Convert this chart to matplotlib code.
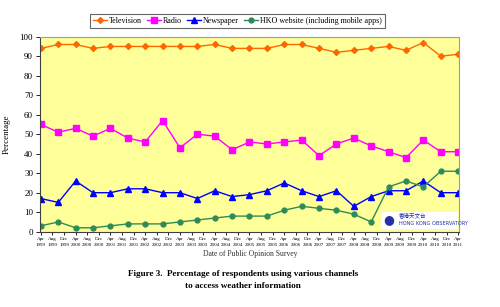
import matplotlib
matplotlib.use("Agg")
import matplotlib.pyplot as plt
import numpy as np

plt.rcParams['font.family'] = ['Liberation Serif', 'DejaVu Serif']

# survey index (every 6 months from Apr 1999), tick labels every 4 months
survey_months = list(range(0, 145, 6))
tick_labels = []
for y in range(1999, 2012):
    for m in ["Apr", "Aug", "Dec"]:
        tick_labels.append(f"{m}\n{y}")
tick_labels = tick_labels[:37]
tick_months = list(range(0, 145, 4))

television = [94, 96, 96, 94, 95, 95, 95, 95, 95, 95, 96, 94, 94, 94, 96, 96, 94, 92, 93, 94, 95, 93, 97, 90, 91]
radio = [55, 51, 53, 49, 53, 48, 46, 57, 43, 50, 49, 42, 46, 45, 46, 47, 39, 45, 48, 44, 41, 38, 47, 41, 41]
newspaper = [17, 15, 26, 20, 20, 22, 22, 20, 20, 17, 21, 18, 19, 21, 25, 21, 18, 21, 13, 18, 21, 21, 26, 20, 20]
hko_web = [3, 5, 2, 2, 3, 4, 4, 4, 5, 6, 7, 8, 8, 8, 11, 13, 12, 11, 9, 5, 23, 26, 23, 31, 31]

fig = plt.figure(figsize=(5, 3.07), dpi=100)
ax = fig.add_axes([0.08, 0.2453, 0.838, 0.6352])
ax.set_facecolor('#FFFF99')

ax.plot(survey_months, television, color='#FF6600', lw=1, marker='D', ms=3, label='Television')
ax.plot(survey_months, radio, color='#FF00FF', lw=1, marker='s', ms=4, label='Radio')
ax.plot(survey_months, newspaper, color='#0000FF', lw=1, marker='^', ms=4, label='Newspaper')
ax.plot(survey_months, hko_web, color='#2E8B57', lw=1, marker='o', ms=3.5, label='HKO website (including mobile apps)')

ax.set_xlim(-0.3, 144.3)
ax.set_ylim(0, 100)
ax.set_yticks(range(0, 101, 10))
ax.set_xticks(tick_months)
ax.set_xticklabels(tick_labels, fontsize=3.6, linespacing=1.5)
ax.tick_params(axis='y', labelsize=6.5, length=3, width=0.6, pad=2)
ax.tick_params(axis='x', length=2, width=0.6, pad=2)
for s in ['top', 'right']:
    ax.spines[s].set_color('#A0A080')
    ax.spines[s].set_linewidth(0.8)
for s in ['left', 'bottom']:
    ax.spines[s].set_color('#404040')
    ax.spines[s].set_linewidth(0.8)

ax.set_ylabel('Percentage', fontsize=6.5, labelpad=6)
fig.text(0.5, 1 - 254/307, 'Date of Public Opinion Survey', ha='center', va='center', fontsize=5.5, color='#333333')
fig.text(243/500, 1 - 274/307, 'Figure 3.  Percentage of respondents using various channels', ha='center', va='center', fontsize=6.6, fontweight='bold')
fig.text(243/500, 1 - 286/307, 'to access weather information', ha='center', va='center', fontsize=6.6, fontweight='bold')

leg = ax.legend(loc='center', bbox_to_anchor=(237.5/500, 1 - 21/307),
                bbox_transform=fig.transFigure, ncol=4, fontsize=5.8,
                frameon=True, fancybox=False, edgecolor='#404040', handlelength=1.7,
                handletextpad=0.3, columnspacing=0.6, borderpad=0.4, borderaxespad=0)
leg.get_frame().set_linewidth(0.8)

# HKO logo placeholder
fig.patches.append(matplotlib.patches.Rectangle((381/500, 1 - 229/307), 77/500, 17/307,
                   transform=fig.transFigure, facecolor='white', edgecolor='none', zorder=5))
fig.text(389/500, 1 - 220/307, '●', fontsize=9, color='#2233AA', ha='center', va='center', zorder=6,
         family=['DejaVu Sans'])
fig.text(399/500, 1 - 215.5/307, '香港天文台', fontsize=4, color='#2233AA', ha='left', va='center', zorder=6,
         family=['Noto Sans CJK TC', 'DejaVu Sans'])
fig.text(399/500, 1 - 223.5/307, 'HONG KONG OBSERVATORY', fontsize=3.6, color='#2233AA', ha='left', va='center', zorder=6,
         family=['DejaVu Sans'])

fig.savefig('out.png', dpi=100)
